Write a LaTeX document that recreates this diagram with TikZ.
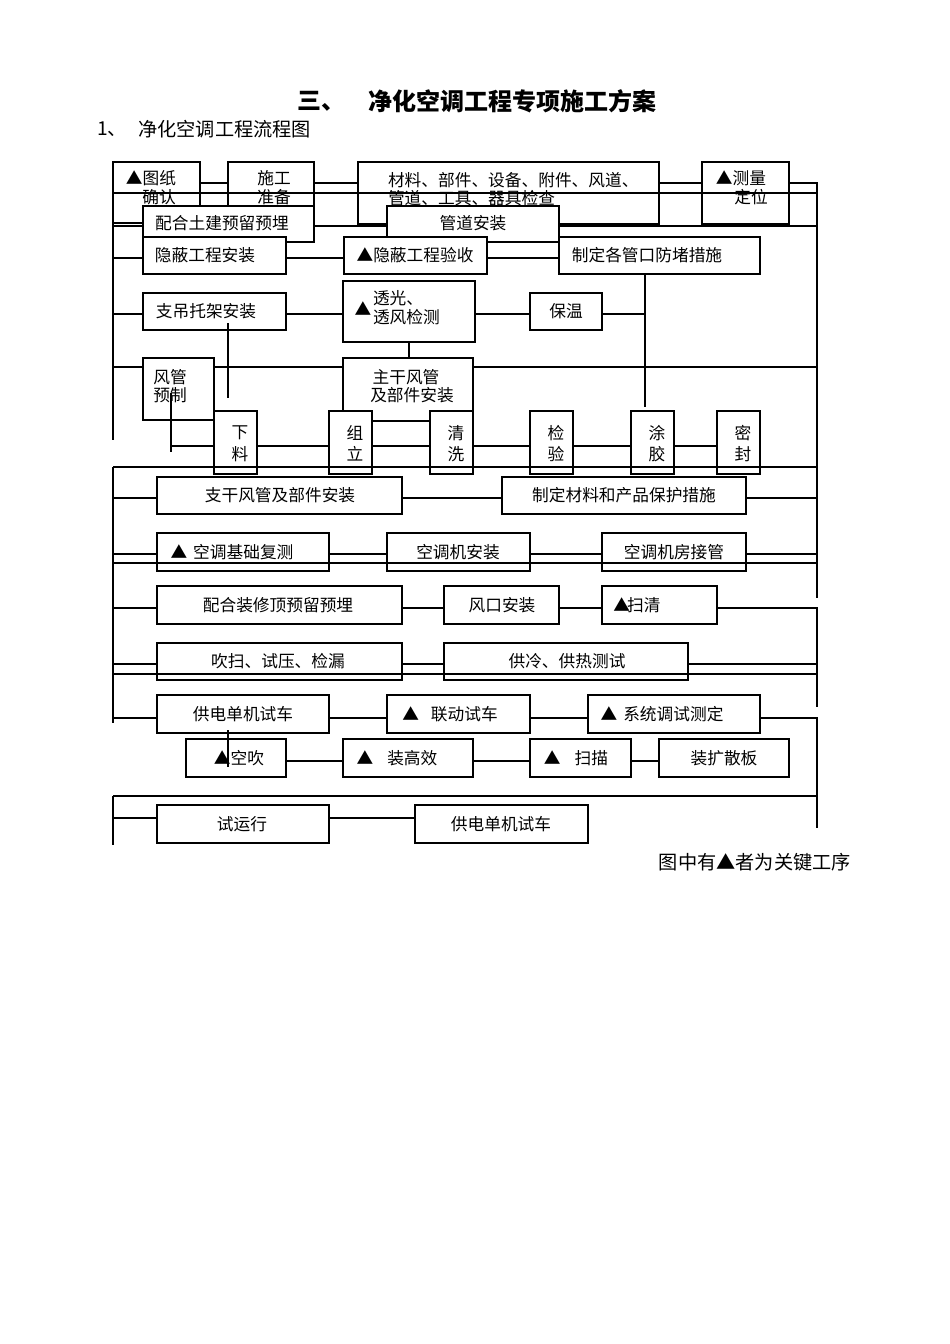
\documentclass[tikz,border=0pt]{standalone}
\usepackage{fontspec}
\setmainfont{Noto Sans CJK SC}
\tikzset{
  box/.style={draw=black, fill=white, line width=1.4pt, inner sep=0pt, outer sep=0pt},
  txt/.style={inner sep=0pt, outer sep=0pt, font=\fontsize{16.7}{19}\selectfont, align=center},
  ln/.style={draw=black, line width=1.4pt},
}
\newcommand\mybox[5]{\node[box, minimum width={#4-#2}, minimum height={#5-#3}] (#1) at ({(#2+#4)/2},{(#3+#5)/2}) {};}
\newcommand\btext[4][]{\node[txt,#1] (#2) at (#3) {#4};}
\begin{document}
\begin{tikzpicture}[x=1pt,y=-1pt]
\useasboundingbox (0,0) rectangle (950,1344);
% row levels and rails
\coordinate (y183) at (0,183); \coordinate (y193) at (0,193); \coordinate (y226) at (0,226);
\coordinate (y258) at (0,258); \coordinate (y314) at (0,314); \coordinate (y367) at (0,367);
\coordinate (y446) at (0,446); \coordinate (y467) at (0,467); \coordinate (y498) at (0,498);
\coordinate (y554) at (0,554); \coordinate (y563) at (0,563); \coordinate (y608) at (0,608);
\coordinate (y664) at (0,664); \coordinate (y674) at (0,674); \coordinate (y718) at (0,718);
\coordinate (y761) at (0,761); \coordinate (y796) at (0,796); \coordinate (y818) at (0,818);
\coordinate (L1a) at (113,162); \coordinate (L1b) at (113,440);
\coordinate (L2a) at (113,467); \coordinate (L2b) at (113,723);
\coordinate (L3a) at (113,796); \coordinate (L3b) at (113,845);
\coordinate (R1a) at (817,183); \coordinate (R1b) at (817,598);
\coordinate (R2a) at (817,608); \coordinate (R2b) at (817,707);
\coordinate (R3a) at (817,718); \coordinate (R3b) at (817,828);

% title
\node[anchor=west, inner sep=0pt, font=\fontsize{24}{28}\selectfont\bfseries] (title1) at (297,101) {三、};
\node[anchor=west, inner sep=0pt, font=\fontsize{24}{28}\selectfont\bfseries] (title2) at (368,101) {净化空调工程专项施工方案};
\node[anchor=west, inner sep=0pt, font=\fontsize{19.2}{22}\selectfont] (sub1) at (97,129) {1、};
\node[anchor=west, inner sep=0pt, font=\fontsize{19.2}{22}\selectfont] (sub2) at (138,129) {净化空调工程流程图};

% left rail 1
\draw[ln] (L1a) -- (L1b);

% row 1
\mybox{b1}{113}{162}{200}{223}
\btext{b1t1}{151,178}{▲图纸}
\btext{b1t2}{159,197}{确认}
\mybox{b2}{228}{162}{314}{242}
\btext{b2t1}{274,178}{施工}
\btext{b2t2}{274,197}{准备}
\mybox{b3}{358}{162}{659}{224}
\btext[anchor=west]{b3t1}{388,180}{材料、部件、设备、附件、风道、}
\btext[anchor=west]{b3t2}{388,198}{管道、工具、器具检查}
\mybox{b4}{702}{162}{789}{224}
\btext{b4t1}{741,178}{▲测量}
\btext{b4t2}{751,197}{定位}
\draw[ln] (b1.east |- y183) -- (b2.west |- y183);
\draw[ln] (b2.east |- y183) -- (b3.west |- y183);
\draw[ln] (b3.east |- y183) -- (b4.west |- y183);
\draw[ln] (b4.east |- y183) -- (R1a) -- (R1b);
\draw[ln] (L1a |- y193) -- (R1a |- y193);
\draw[ln] (L1a |- y226) -- (R1a |- y226);

% row 2
\mybox{c1}{143}{206}{314}{242} \btext{c1t}{222,223}{配合土建预留预埋}
\mybox{c2}{387}{206}{559}{242} \btext{c2t}{473,223}{管道安装}
\mybox{d1}{143}{237}{286}{274} \btext{d1t}{205,255}{隐蔽工程安装}
\mybox{d2}{344}{237}{487}{274} \btext{d2t}{415,255}{▲隐蔽工程验收}
\mybox{d3}{559}{237}{760}{274} \btext{d3t}{647,255}{制定各管口防堵措施}
\draw[ln] (L1a |- y258) -- (d1.west |- y258);
\draw[ln] (d1.east |- y258) -- (d2.west |- y258);
\draw[ln] (d2.east |- y258) -- (d3.west |- y258);

% row 3
\mybox{e1}{143}{293}{286}{330} \btext{e1t}{206,311}{支吊托架安装}
\mybox{e2}{343}{281}{475}{342}
\btext{e2t0}{363,309}{▲}
\btext[anchor=west]{e2t1}{373,298}{透光、}
\btext[anchor=west]{e2t2}{373,317}{透风检测}
\mybox{e3}{530}{293}{602}{330} \btext{e3t}{566,311}{保温}
\coordinate (v645a) at (645,274); \coordinate (v645b) at (645,407);
\draw[ln] (L1a |- y314) -- (e1.west |- y314);
\draw[ln] (e1.east |- y314) -- (e2.west |- y314);
\draw[ln] (e2.east |- y314) -- (e3.west |- y314);
\draw[ln] (e3.east |- y314) -- (v645a |- y314);
\draw[ln] (v645a) -- (v645b);

% row 4
\draw[ln] (L1a |- y367) -- (R1a |- y367);
\coordinate (v228a) at (228,323); \coordinate (v228b) at (228,398);
\draw[ln] (v228a) -- (v228b);
\mybox{f1}{143}{358}{214}{420}
\btext{f1t1}{170,377}{风管}
\btext{f1t2}{170,395}{预制}
\mybox{f2}{343}{358}{473}{421}
\btext{f2t1}{406,377}{主干风管}
\btext{f2t2}{412,395}{及部件安装}
\coordinate (v409) at (409,0);
\draw[ln] (e2.south -| v409) -- (f2.north -| v409);

% row 5 small boxes
\mybox{g1}{214}{411}{257}{474} \btext{g1a}{240,433}{下} \btext{g1b}{240,454}{料}
\mybox{g2}{329}{411}{372}{474} \btext{g2a}{355,433}{组} \btext{g2b}{355,454}{立}
\mybox{g3}{430}{411}{473}{474} \btext{g3a}{456,433}{清} \btext{g3b}{456,454}{洗}
\mybox{g4}{530}{411}{573}{474} \btext{g4a}{556,433}{检} \btext{g4b}{556,454}{验}
\mybox{g5}{631}{411}{674}{474} \btext{g5a}{657,433}{涂} \btext{g5b}{657,454}{胶}
\mybox{g6}{717}{411}{760}{474} \btext{g6a}{743,433}{密} \btext{g6b}{743,454}{封}
\coordinate (v171a) at (171,393); \coordinate (v171b) at (171,452);
\draw[ln] (v171a) -- (v171b);
\draw[ln] (v171a |- y446) -- (g1.west |- y446);
\draw[ln] (g1.east |- y446) -- (g2.west |- y446);
\draw[ln] (g2.east |- y446) -- (g3.west |- y446);
\draw[ln] (g3.east |- y446) -- (g4.west |- y446);
\draw[ln] (g4.east |- y446) -- (g5.west |- y446);
\draw[ln] (g5.east |- y446) -- (g6.west |- y446);
\draw[ln] (L2a) -- (R1a |- y467);
\draw[ln] (L2a) -- (L2b);

% row 6
\mybox{h1}{157}{477}{402}{514} \btext{h1t}{280,495}{支干风管及部件安装}
\mybox{h2}{502}{477}{746}{514} \btext{h2t}{624,495}{制定材料和产品保护措施}
\draw[ln] (L2a |- y498) -- (h1.west |- y498);
\draw[ln] (h1.east |- y498) -- (h2.west |- y498);
\draw[ln] (h2.east |- y498) -- (R1a |- y498);

% row 7
\mybox{i1}{157}{533}{329}{571} \btext{i1t}{232,552}{▲\hspace{6pt}空调基础复测}
\mybox{i2}{387}{533}{530}{571} \btext{i2t}{458,552}{空调机安装}
\mybox{i3}{602}{533}{746}{571} \btext{i3t}{674,552}{空调机房接管}
\draw[ln] (L2a |- y554) -- (i1.west |- y554);
\draw[ln] (i1.east |- y554) -- (i2.west |- y554);
\draw[ln] (i2.east |- y554) -- (i3.west |- y554);
\draw[ln] (i3.east |- y554) -- (R1a |- y554);
\draw[ln] (L2a |- y563) -- (R1a |- y563);

% row 8
\mybox{j1}{157}{586}{402}{624} \btext{j1t}{278,605}{配合装修顶预留预埋}
\mybox{j2}{444}{586}{559}{624} \btext{j2t}{502,605}{风口安装}
\mybox{j3}{602}{586}{717}{624} \btext{j3t}{637,605}{▲\hspace{-3pt}扫清}
\draw[ln] (L2a |- y608) -- (j1.west |- y608);
\draw[ln] (j1.east |- y608) -- (j2.west |- y608);
\draw[ln] (j2.east |- y608) -- (j3.west |- y608);
\draw[ln] (j3.east |- y608) -- (R2a) -- (R2b);

% row 9
\mybox{k1}{157}{643}{402}{680} \btext{k1t}{278,661}{吹扫、试压、检漏}
\mybox{k2}{444}{643}{688}{680} \btext{k2t}{567,661}{供冷、供热测试}
\draw[ln] (L2a |- y664) -- (k1.west |- y664);
\draw[ln] (k1.east |- y664) -- (k2.west |- y664);
\draw[ln] (k2.east |- y664) -- (R2a |- y664);
\draw[ln] (L2a |- y674) -- (R2a |- y674);

% row 10
\mybox{l1}{157}{695}{329}{733} \btext{l1t}{243,714}{供电单机试车}
\mybox{l2}{387}{695}{530}{733} \btext{l2t}{450,714}{▲\hspace{12pt}联动试车}
\mybox{l3}{588}{695}{760}{733} \btext{l3t}{662,714}{▲\hspace{6pt}系统调试测定}
\draw[ln] (L2a |- y718) -- (l1.west |- y718);
\draw[ln] (l1.east |- y718) -- (l2.west |- y718);
\draw[ln] (l2.east |- y718) -- (l3.west |- y718);
\draw[ln] (l3.east |- y718) -- (R3a) -- (R3b);

% row 11
\mybox{m1}{186}{739}{286}{777} \btext{m1t}{239,758}{▲空吹}
\coordinate (v228c) at (228,730); \coordinate (v228d) at (228,767);
\draw[ln] (v228c) -- (v228d);
\mybox{m2}{343}{739}{473}{777} \btext{m2t}{397,758}{▲\hspace{14pt}装高效}
\mybox{m3}{530}{739}{631}{777} \btext{m3t}{576,758}{▲\hspace{14pt}扫描}
\mybox{m4}{659}{739}{789}{777} \btext{m4t}{724,758}{装扩散板}
\draw[ln] (m1.east |- y761) -- (m2.west |- y761);
\draw[ln] (m2.east |- y761) -- (m3.west |- y761);
\draw[ln] (m3.east |- y761) -- (m4.west |- y761);

% row 12
\draw[ln] (L3a) -- (R3a |- y796);
\draw[ln] (L3a) -- (L3b);
\mybox{n1}{157}{805}{329}{843} \btext{n1t}{242,824}{试运行}
\mybox{n2}{415}{805}{588}{843} \btext{n2t}{501,824}{供电单机试车}
\draw[ln] (L3a |- y818) -- (n1.west |- y818);
\draw[ln] (n1.east |- y818) -- (n2.west |- y818);

% note
\node[anchor=east, inner sep=0pt, font=\fontsize{19.2}{22}\selectfont] (note) at (851,862) {图中有▲者为关键工序};
\end{tikzpicture}
\end{document}
